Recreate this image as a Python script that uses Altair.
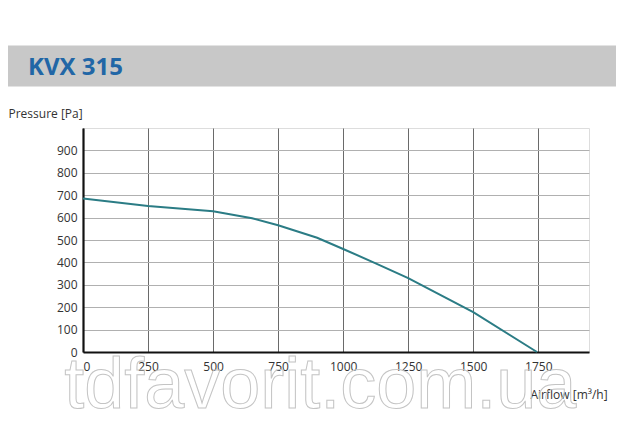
import altair as alt
import pandas as pd

airflow = [0, 250, 500, 650, 750, 900, 1000, 1125, 1250, 1500, 1745]
pressure = [685, 652, 628, 597, 566, 510, 460, 396, 330, 178, 0]
x_ticks = [0, 250, 500, 750, 1000, 1250, 1500, 1750]
y_ticks = [0, 100, 200, 300, 400, 500, 600, 700, 800, 900]
title_text = "KVX 315"
watermark = "tdfavorit.com.ua"

df = pd.DataFrame({"airflow": airflow, "pressure": pressure})

W, H = 506, 224
FONT = "Open Sans"

xscale = alt.Scale(domain=[0, 1945], nice=False, zero=False)
yscale = alt.Scale(domain=[0, 1000], nice=False)

line = alt.Chart(df).mark_line(color="#2b7c85", strokeWidth=2).encode(
    x=alt.X("airflow:Q", scale=xscale,
            axis=alt.Axis(values=x_ticks, format="d", title="Airflow [m³/h]", grid=True,
                          gridColor="#6a6a6a", gridWidth=1,
                          domainColor="#111", domainWidth=2.2, ticks=False,
                          labelFont=FONT, labelFontSize=12, labelColor="#333",
                          labelPadding=9, labelFlush=True,
                          titleFont=FONT, titleFontSize=12, titleFontWeight="normal",
                          titleColor="#333", titleAnchor="start", titleAlign="left",
                          titleX=447, titleY=42, titleBaseline="middle")),
    y=alt.Y("pressure:Q", scale=yscale,
            axis=alt.Axis(values=y_ticks, format="d", title="Pressure [Pa]", grid=True,
                          gridColor="#b0b0b0", gridWidth=1,
                          domainColor="#111", domainWidth=2.2, ticks=False,
                          labelFont=FONT, labelFontSize=12, labelColor="#333",
                          labelPadding=6,
                          titleFont=FONT, titleFontSize=12, titleFontWeight="normal",
                          titleColor="#333", titleAngle=0, titleAlign="left",
                          titleX=-75, titleY=-15, titleBaseline="middle")),
)

banner = alt.Chart(pd.DataFrame({"t": [title_text]})).mark_rect(color="#c8c8c8").encode(
    x=alt.value(-80), x2=alt.value(533), y=alt.value(-82.6), y2=alt.value(-41.6)
)

title = alt.Chart(pd.DataFrame({"t": [title_text]})).mark_text(
    font=FONT, fontSize=24, fontWeight="bold", color="#2166a6",
    align="left", baseline="alphabetic"
).encode(text="t:N", x=alt.value(-55), y=alt.value(-53.3))

wm = alt.Chart(pd.DataFrame({"t": [watermark]})).mark_text(
    font="Liberation Sans", fontSize=72, fillOpacity=0, stroke="#c4c4c4",
    strokeWidth=1, align="center", baseline="alphabetic"
).encode(text="t:N", x=alt.value(237.3), y=alt.value(279.7))

chart = alt.layer(banner, title, line, wm).properties(
    width=W, height=H,
    autosize=alt.AutoSizeParams(type="none"),
    padding={"left": 75, "top": 120, "right": 43, "bottom": 85},
).configure_view(stroke="#888", strokeWidth=1).configure(background="white")

chart.save("out.html", embed_options={"renderer": "svg", "actions": False})
